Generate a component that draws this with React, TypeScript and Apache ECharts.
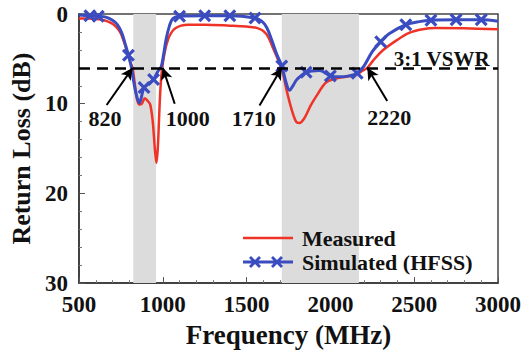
import React, { useEffect, useRef } from "react";
import * as echarts from "echarts";

// ---- Data ----
const measuredFreq = [500, 550, 600, 650, 690, 720, 745, 770, 790, 805, 820, 833, 845, 860, 875, 893, 910, 925, 940, 952, 962, 970, 978, 986, 996, 1012, 1030, 1050, 1075, 1110, 1150, 1250, 1400, 1500, 1560, 1600, 1630, 1660, 1690, 1710, 1735, 1765, 1795, 1815, 1845, 1885, 1925, 1975, 2035, 2095, 2150, 2195, 2220, 2255, 2310, 2390, 2470, 2550, 2630, 2800, 3000];
const measuredLoss = [0.5, 0.5, 0.55, 0.7, 1.0, 1.4, 2.0, 3.2, 4.4, 5.3, 6.05, 7.8, 9.4, 10.1, 10.0, 9.4, 9.7, 10.1, 12.0, 14.9, 16.6, 15.0, 11.5, 8.3, 6.05, 4.2, 2.9, 2.1, 1.6, 1.3, 1.2, 1.2, 1.3, 1.4, 1.55, 1.9, 2.6, 3.9, 5.2, 6.05, 8.2, 10.4, 12.0, 12.15, 11.6, 10.1, 8.9, 7.6, 7.2, 7.0, 6.8, 6.3, 6.0, 5.2, 4.1, 3.0, 2.1, 1.7, 1.57, 1.6, 1.7];

const simFreq = [500, 565, 615, 660, 700, 730, 755, 775, 795, 812, 828, 845, 860, 888, 915, 945, 970, 990, 1005, 1020, 1040, 1060, 1100, 1250, 1400, 1550, 1590, 1620, 1650, 1680, 1710, 1735, 1756, 1780, 1800, 1855, 1935, 2000, 2055, 2110, 2160, 2200, 2250, 2300, 2350, 2450, 2530, 2600, 2750, 2900, 3000];
const simLoss = [0.1, 0.2, 0.25, 0.35, 0.7, 1.2, 2.1, 3.3, 4.6, 5.9, 7.7, 9.2, 9.9, 8.2, 7.8, 7.3, 6.4, 5.9, 4.5, 2.8, 1.3, 0.5, 0.25, 0.2, 0.2, 0.45, 0.8, 1.5, 2.9, 4.5, 5.8, 7.6, 8.5, 7.9, 7.3, 6.5, 6.3, 6.9, 7.0, 6.9, 6.6, 5.8, 4.2, 3.1, 2.2, 1.2, 0.85, 0.7, 0.65, 0.65, 0.8];
const simMarkerFreq = [565, 615, 795, 888, 945, 1100, 1250, 1400, 1550, 1710, 1855, 2000, 2160, 2300, 2450, 2600, 2750, 2900];

const bandStart = [824, 1710];
const bandEnd = [960, 2170];

const vswrLevel = 6;
const vswrLabel = "3:1 VSWR";
const crossingFreq = [820, 1000, 1710, 2220];
const crossingLabel = ["820", "1000", "1710", "2220"];

// annotation layout (data coordinates)
const arrowTail = [[665, 10.15], [1071, 10.0], [1577, 10.2], [2339, 9.7]];
const labelPos = [[655, 11.7], [1149, 11.7], [1542, 11.7], [2351, 11.5]];
const vswrLabelPos = [2664, 5.0];

const FONT = "Liberation Serif";
const RED = "#ef3327";
const BLUE = "#3a4cc0";

const X_SYMBOL = "path://M0,2.1L2.1,0L6,3.9L9.9,0L12,2.1L8.1,6L12,9.9L9.9,12L6,8.1L2.1,12L0,9.9L3.9,6Z";

function xPoly(cx: number, cy: number, h: number, d: number) {
  return `M${cx - h},${cy - h + d}L${cx - h + d},${cy - h}L${cx},${cy - d}L${cx + h - d},${cy - h}L${cx + h},${cy - h + d}L${cx + d},${cy}L${cx + h},${cy + h - d}L${cx + h - d},${cy + h}L${cx},${cy + d}L${cx - h + d},${cy + h}L${cx - h},${cy + h - d}L${cx - d},${cy}Z`;
}
const corners = "M0,0L0.01,0L0,0.01Z M50,14L49.99,14L50,13.99Z";
const RED_ICON = `path://${corners} M0,5.8L50,5.8L50,8.2L0,8.2Z`;
const BLUE_ICON = `path://${corners} M0,5.5L50,5.5L50,8.5L0,8.5Z ${xPoly(12, 7, 6, 2.0)} ${xPoly(34, 7, 6, 2.0)}`;

export default function App() {
  const ref = useRef<HTMLDivElement>(null);

  useEffect(() => {
    if (!ref.current) return;
    const chart = echarts.init(ref.current, null, { renderer: "svg" });

    const measuredData = measuredFreq.map((f, i) => [f, measuredLoss[i]]);
    const simData = simFreq.map((f, i) =>
      simMarkerFreq.includes(f)
        ? { value: [f, simLoss[i]] }
        : { value: [f, simLoss[i]], symbol: "none" }
    );

    const textStyle = { fontFamily: FONT, fontWeight: "bold" as const, color: "#111" };

    const option: any = {
      animation: false,
      backgroundColor: "#ffffff",
      grid: {
        left: 79,
        right: 25,
        top: 14,
        bottom: 65,
        show: true,
        borderColor: "#444",
        borderWidth: 1.5,
        backgroundColor: "transparent",
      },
      legend: {
        orient: "vertical",
        left: 238,
        top: 222,
        itemWidth: 50,
        itemHeight: 14,
        itemGap: 2,
        itemStyle: { borderWidth: 0 },
        textStyle: { ...textStyle, fontSize: 22, lineHeight: 22, padding: [0, 0, 0, 4] },
        data: [
          { name: "Measured", icon: RED_ICON },
          { name: "Simulated (HFSS)", icon: BLUE_ICON },
        ],
      },
      xAxis: {
        type: "value",
        min: 500,
        max: 3000,
        interval: 500,
        name: "Frequency (MHz)",
        nameLocation: "middle",
        nameGap: 34,
        nameTextStyle: { ...textStyle, fontSize: 27 },
        axisLine: { show: true, onZero: false, lineStyle: { color: "#333", width: 1.5 } },
        axisTick: { show: true, inside: true, length: 6, lineStyle: { color: "#555", width: 1 } },
        minorTick: { show: true, splitNumber: 5, length: 3, lineStyle: { color: "#777", width: 1 } },
        splitLine: { show: false },
        axisLabel: { ...textStyle, fontSize: 23, margin: 10, formatter: (v: number) => String(v) },
      },
      yAxis: {
        type: "value",
        inverse: true,
        min: 0,
        max: 30,
        interval: 10,
        name: "Return Loss (dB)",
        nameLocation: "middle",
        nameGap: 42,
        nameTextStyle: { ...textStyle, fontSize: 26 },
        axisLine: { show: true, lineStyle: { color: "#333", width: 1.5 } },
        axisTick: { show: true, inside: true, length: 6, lineStyle: { color: "#555", width: 1 } },
        minorTick: { show: true, splitNumber: 5, length: 3, lineStyle: { color: "#777", width: 1 } },
        splitLine: { show: false },
        axisLabel: { ...textStyle, fontSize: 23, margin: 11, formatter: (v: number) => String(v) },
      },
      series: [
        {
          name: "Measured",
          type: "line",
          data: measuredData,
          smooth: 0.35,
          showSymbol: false,
          symbol: "none",
          z: 3,
          color: RED,
          lineStyle: { color: RED, width: 2.5 },
          markArea: {
            silent: true,
            itemStyle: { color: "#dcdcdc" },
            data: bandStart.map((s, i) => [{ xAxis: s }, { xAxis: bandEnd[i] }]),
          },
        },
        {
          name: "Simulated (HFSS)",
          type: "line",
          data: simData,
          smooth: 0.35,
          symbol: X_SYMBOL,
          symbolSize: 13,
          showSymbol: true,
          showAllSymbol: true,
          z: 4,
          color: BLUE,
          itemStyle: { color: BLUE, borderWidth: 0 },
          lineStyle: { color: BLUE, width: 3 },
        },
        {
          name: "annotations",
          type: "line",
          data: [],
          z: 5,
          markLine: {
            silent: true,
            symbol: ["none", "none"],
            label: { show: false },
            data: [
              {
                yAxis: vswrLevel,
                lineStyle: { color: "#000", width: 2.5, type: [11, 7] },
              },
              ...crossingFreq.map((f, i) => [
                { coord: arrowTail[i], symbol: "none", lineStyle: { color: "#000", width: 2, type: "solid" } },
                { coord: [f, vswrLevel], symbol: "arrow", symbolSize: [9, 12] },
              ]),
            ],
          },
          markPoint: {
            silent: true,
            symbol: "circle",
            symbolSize: 1,
            itemStyle: { color: "rgba(0,0,0,0)" },
            label: { show: true, position: "inside", formatter: "{b}", ...textStyle, fontSize: 22 },
            data: [
              ...crossingLabel.map((t, i) => ({ name: t, coord: labelPos[i] })),
              { name: vswrLabel, coord: vswrLabelPos, label: { fontSize: 21 } },
            ],
          },
        },
      ],
    };

    chart.setOption(option);
    return () => chart.dispose();
  }, []);

  return (
    <div
      ref={ref}
      style={{ position: "fixed", left: 0, top: 0, width: 524, height: 353, background: "#fff" }}
    />
  );
}
